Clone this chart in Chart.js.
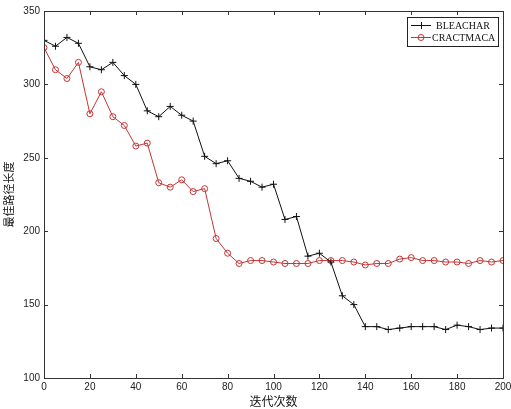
<!DOCTYPE html>
<html><head><meta charset="utf-8">
<script src="https://cdn.jsdelivr.net/npm/chart.js@4"></script>
<style>html,body{margin:0;padding:0;background:#fff}#wrap{width:511px;height:409px}</style>
</head><body><div id="wrap"><canvas id="c" width="511" height="409"></canvas></div>
<script>
const iterations = [0,5,10,15,20,25,30,35,40,45,50,55,60,65,70,75,80,85,90,95,100,105,110,115,120,125,130,135,140,145,150,155,160,165,170,175,180,185,190,195,200];
const bleachar = [330,326,332,328,312,310,315,306,300,282,278,285,279,275,251,246,248,236,234,230,232,208,210,183,185,179,156,150,135,135,133,134,135,135,135,133,136,135,133,134,134];
const cractmaca = [325,310,304,315,280,295,278,272,258,260,233,230,235,227,229,195,185,178,180,180,179,178,178,178,180,180,180,179,177,178,178,181,182,180,180,179,179,178,180,179,180];
const xTicks = [0,20,40,60,80,100,120,140,160,180,200];
const yTicks = [100,150,200,250,300,350];
const seriesNames = ['BLEACHAR','CRACTMACA'];
const xTitle = '迭代次数';
const yTitle = '最佳路径长度';

const BLACK = '#111';
const RED = 'rgb(196,52,52)';

const boxPlugin = {
  id: 'box',
  afterDatasetsDraw(chart) {
    const ctx = chart.ctx, a = chart.chartArea;
    const xs = chart.scales.x, ys = chart.scales.y;
    ctx.save();
    ctx.strokeStyle = '#333';
    ctx.lineWidth = 1;
    ctx.strokeRect(Math.round(a.left)+0.5, Math.round(a.top)+0.5, Math.round(a.right-a.left), Math.round(a.bottom-a.top));
    ctx.beginPath();
    const L = 4;
    xTicks.forEach(v => {
      const px = Math.round(xs.getPixelForValue(v)) + 0.5;
      ctx.moveTo(px, a.bottom); ctx.lineTo(px, a.bottom - L);
      ctx.moveTo(px, a.top); ctx.lineTo(px, a.top + L);
    });
    yTicks.forEach(v => {
      const py = Math.round(ys.getPixelForValue(v)) + 0.5;
      ctx.moveTo(a.left, py); ctx.lineTo(a.left + L, py);
      ctx.moveTo(a.right, py); ctx.lineTo(a.right - L, py);
    });
    ctx.stroke();
    // legend
    const lx = 407, ly = 17, lw = 91, lh = 29;
    ctx.fillStyle = '#fff';
    ctx.fillRect(lx, ly, lw, lh);
    ctx.strokeStyle = '#222';
    ctx.strokeRect(lx+0.5, ly+0.5, lw, lh);
    const rows = [{name: seriesNames[0], color: BLACK, y: ly+8, mark: 'cross', tx: lx+29}, {name: seriesNames[1], color: RED, y: ly+20, mark: 'circle', tx: lx+25}];
    ctx.font = '10px "Liberation Serif", "Times New Roman", serif';
    ctx.textBaseline = 'middle';
    rows.forEach(r => {
      ctx.strokeStyle = r.color;
      ctx.beginPath();
      ctx.moveTo(lx+4, r.y+0.5); ctx.lineTo(lx+24, r.y+0.5);
      ctx.stroke();
      const cx = lx+14;
      ctx.beginPath();
      if (r.mark === 'cross') {
        ctx.moveTo(cx-3, r.y+0.5); ctx.lineTo(cx+4, r.y+0.5);
        ctx.moveTo(cx+0.5, r.y-3); ctx.lineTo(cx+0.5, r.y+4);
      } else {
        ctx.arc(cx, r.y+0.5, 3, 0, Math.PI*2);
      }
      ctx.stroke();
      ctx.fillStyle = '#111';
      ctx.fillText(r.name, r.tx, r.y+1);
    });
    ctx.restore();
  }
};

new Chart(document.getElementById('c'), {
  type: 'line',
  data: {
    datasets: [
      { label: seriesNames[0], data: iterations.map((x,i)=>({x, y: bleachar[i]})), borderColor: BLACK, borderWidth: 1,
        pointStyle: 'cross', pointRadius: 3.5, pointBorderColor: BLACK, pointBorderWidth: 1, pointBackgroundColor: 'transparent', tension: 0 },
      { label: seriesNames[1], data: iterations.map((x,i)=>({x, y: cractmaca[i]})), borderColor: RED, borderWidth: 1,
        pointStyle: 'circle', pointRadius: 3, pointBorderColor: RED, pointBorderWidth: 1, pointBackgroundColor: 'transparent', tension: 0 }
    ]
  },
  options: {
    responsive: false,
    animation: false,
    devicePixelRatio: 1,
    layout: { padding: { left: 2, top: 11, right: 8, bottom: 0 } },
    plugins: { legend: { display: false }, tooltip: { enabled: false } },
    scales: {
      x: {
        type: 'linear', min: 0, max: 200,
        afterBuildTicks: s => { s.ticks = xTicks.map(v => ({value: v})); },
        afterFit: s => { s.height = 31; s.paddingRight = 0; s.paddingLeft = 0; },
        grid: { display: false, drawTicks: false },
        border: { display: false },
        ticks: { color: '#222', font: { family: 'Liberation Sans, Arial, sans-serif', size: 10 }, padding: 3, maxRotation: 0 },
        title: { display: true, text: xTitle, color: '#111', font: { family: '"Noto Sans CJK SC", sans-serif', size: 12 }, padding: { top: 0, bottom: 0 } }
      },
      y: {
        type: 'linear', min: 100, max: 350,
        afterBuildTicks: s => { s.ticks = yTicks.map(v => ({value: v})); },
        afterFit: s => { s.width = 42; s.paddingTop = 0; s.paddingBottom = 0; },
        grid: { display: false, drawTicks: false },
        border: { display: false },
        ticks: { color: '#222', font: { family: 'Liberation Sans, Arial, sans-serif', size: 10 }, padding: 4 },
        title: { display: true, text: yTitle, color: '#111', font: { family: '"Noto Sans CJK SC", sans-serif', size: 11 }, padding: { top: 0, bottom: 2 } }
      }
    }
  },
  plugins: [boxPlugin]
});
</script>
</body></html>
